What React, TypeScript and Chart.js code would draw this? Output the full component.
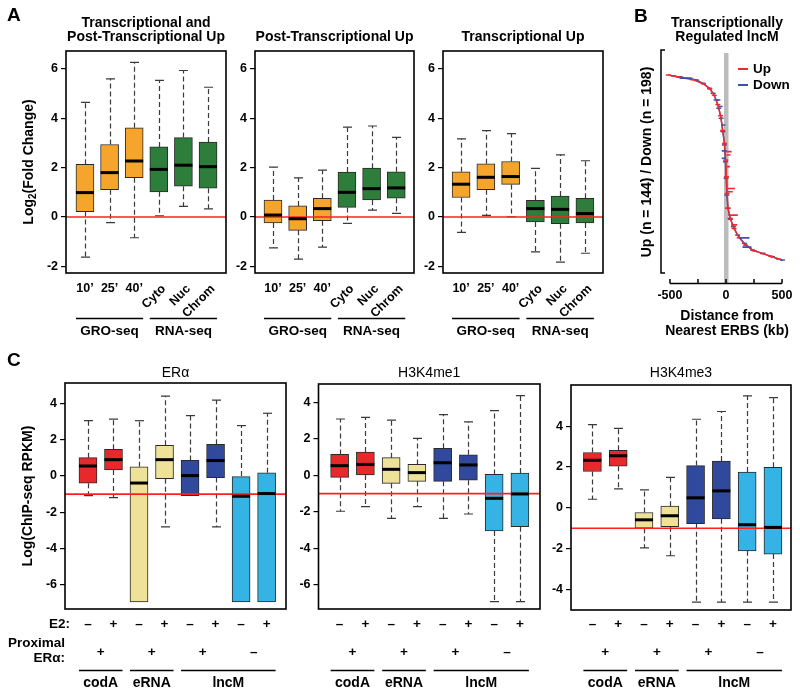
import React, { useEffect, useRef } from 'react';
import { Chart, registerables } from 'chart.js';
Chart.register(...registerables);

const FONT = '"Liberation Sans", Arial, Helvetica, sans-serif';
const PAGE_W = 800;
const PAGE_H = 695;

// ---------------- Panel A data ----------------
const aCategories = ['10’', '25’', '40’', 'Cyto', 'Nuc', 'Chrom'];
const aGroups = ['GRO-seq', 'RNA-seq'];
const aTicks = [-2, 0, 2, 4, 6];
const aTitles = [
  ['Transcriptional and', 'Post-Transcriptional Up'],
  ['Post-Transcriptional Up'],
  ['Transcriptional Up'],
];

const a1Max = [4.65, 5.6, 6.27, 5.54, 5.94, 5.26];
const a1Q3 = [2.14, 2.94, 3.62, 2.84, 3.22, 3.04];
const a1Med = [0.99, 1.8, 2.27, 1.93, 2.1, 2.04];
const a1Q1 = [0.22, 1.11, 1.59, 1.02, 1.25, 1.17];
const a1Min = [-1.63, -0.23, -0.84, 0.05, 0.43, 0.33];

const a2Max = [2.02, 1.59, 1.9, 3.64, 3.69, 3.23];
const a2Q3 = [0.69, 0.45, 0.76, 1.82, 1.98, 1.83];
const a2Med = [0.08, -0.07, 0.34, 1.0, 1.15, 1.18];
const a2Q1 = [-0.24, -0.54, -0.15, 0.39, 0.69, 0.76];
const a2Min = [-1.25, -1.71, -1.22, -0.26, 0.28, 0.15];

const a3Max = [3.17, 3.5, 3.38, 1.97, 2.52, 2.28];
const a3Q3 = [1.83, 2.16, 2.25, 0.68, 0.85, 0.76];
const a3Med = [1.33, 1.61, 1.64, 0.34, 0.31, 0.14];
const a3Q1 = [0.79, 1.11, 1.32, -0.2, -0.27, -0.24];
const a3Min = [-0.62, 0.07, 0.01, -1.41, -1.83, -1.47];

// ---------------- Panel B data ----------------
// y = position in ranked list (% of list, top to bottom), x = distance (kb)
const bUpPct = [0, 1.2, 2.5, 4.8, 7.5, 11, 16, 22, 30, 37, 46, 55, 64, 72, 78, 83, 88, 92, 95, 96.5, 98, 99.5];
const bUpDist = [-515, -420, -300, -200, -145, -105, -72, -48, -30, -13, -2, 4, 10, 19, 40, 72, 118, 175, 250, 330, 400, 470];
const bDownPct = [0.5, 1.0, 1.8, 2.7, 4.5, 7.2, 9.9, 13.5, 18, 23.4, 30.6, 37.8, 46.9, 55.8, 64.9, 72, 77.5, 82, 86.5, 91, 94.6, 96.4, 98.2, 100];
const bDownDist = [-470, -411, -330, -265, -205, -146, -115, -88, -65, -44, -28, -14, -5, 1, 7, 16, 37, 66, 104, 164, 237, 326, 414, 503];
const bUpSpikePct = [41.4, 43.2, 49.5, 61.3, 63.1, 75.7, 81];
const bUpSpikeFrom = [2, 4, 3, 3, 5, 20, 45];
const bUpSpikeTo = [50, 40, 35, 80, 60, 105, 100];
const bDownSpikePct = [1.8, 13.5, 17, 27, 41, 45, 88, 93];
const bDownSpikeFrom = [-415, -88, -65, -40, -38, -38, 120, 147];
const bDownSpikeTo = [-300, -50, -30, -5, 6, 0, 210, 228];
const bAxisTicks = [-500, -250, 0, 250, 500];
const bAxisLabels = [-500, 0, 500];

// ---------------- Panel C data ----------------
const cTitles = ['ERα', 'H3K4me1', 'H3K4me3'];
const cE2 = ['–', '+', '–', '+', '–', '+', '–', '+'];
const cProximal = ['+', '+', '+', '–'];
const cGroups = ['codA', 'eRNA', 'lncM'];
const cTicks12 = [-6, -4, -2, 0, 2, 4];
const cTicks3 = [-4, -2, 0, 2, 4];

const c1Max = [3.05, 3.14, 3.05, 4.41, 3.33, 4.19, 2.78, 3.46];
const c1Q3 = [1.01, 1.47, 0.51, 1.69, 0.86, 1.75, 0.0, 0.18];
const c1Med = [0.55, 0.9, -0.39, 0.9, 0.02, 0.85, -1.12, -0.97];
const c1Q1 = [-0.4, 0.33, -6.95, -0.15, -1.08, -0.09, -6.95, -6.95];
const c1Min = [-1.08, -1.19, -6.95, -2.81, -1.08, -2.81, -6.95, -6.95];

const c2Max = [3.09, 3.18, 3.03, 2.03, 3.33, 2.93, 3.55, 4.37];
const c2Q3 = [1.15, 1.28, 0.97, 0.6, 1.48, 1.13, 0.05, 0.13];
const c2Med = [0.53, 0.6, 0.33, 0.15, 0.69, 0.57, -1.26, -1.02];
const c2Q1 = [-0.11, 0.02, -0.44, -0.33, -0.33, -0.27, -3.05, -2.82];
const c2Min = [-1.97, -1.72, -2.36, -1.72, -2.36, -2.12, -6.93, -6.93];

const c3Max = [4.08, 3.89, 0.88, 1.49, 4.34, 4.72, 5.49, 5.4];
const c3Q3 = [2.71, 2.82, -0.23, 0.08, 2.07, 2.29, 1.75, 1.99];
const c3Med = [2.33, 2.55, -0.59, -0.39, 0.49, 0.83, -0.83, -0.96];
const c3Q1 = [1.78, 2.04, -1.0, -0.93, -0.78, -0.54, -2.11, -2.27];
const c3Min = [0.42, 0.93, -1.96, -2.35, -4.62, -4.62, -4.62, -4.62];

// ---------------- styles ----------------
const ORANGE = '#F5A52B';
const GREEN = '#2D7D3B';
const C_RED = '#E8282B';
const C_YEL = '#EEE298';
const C_DBLUE = '#30499C';
const C_LBLUE = '#36B3E5';
const aColors = [ORANGE, ORANGE, ORANGE, GREEN, GREEN, GREEN];
const cColors = [C_RED, C_RED, C_YEL, C_YEL, C_DBLUE, C_DBLUE, C_LBLUE, C_LBLUE];

function txt(ctx: any, s: string, x: number, y: number, size: number, o: any = {}) {
  ctx.save();
  ctx.font = `${o.weight ?? 'bold'} ${size}px ${FONT}`;
  ctx.fillStyle = o.color ?? '#000';
  ctx.textAlign = o.align ?? 'center';
  ctx.textBaseline = o.baseline ?? 'middle';
  ctx.translate(x, y);
  if (o.rot) ctx.rotate(o.rot);
  ctx.fillText(s, 0, 0);
  ctx.restore();
}

function hline(ctx: any, x1: number, x2: number, y: number, lw = 1.2, color = '#000') {
  ctx.save();
  ctx.strokeStyle = color;
  ctx.lineWidth = lw;
  ctx.beginPath();
  ctx.moveTo(x1, y);
  ctx.lineTo(x2, y);
  ctx.stroke();
  ctx.restore();
}

function panelLetter(ctx: any, s: string, x: number, y: number) {
  txt(ctx, s, x, y, 19, { align: 'left' });
}

const BOX_W = 18;

type BoxSpec = {
  rect: number[];
  xMin: number;
  xMax: number;
  yMin: number;
  yMax: number;
  yTicks: number[];
  colors: string[];
  mins: number[];
  q1s: number[];
  meds: number[];
  q3s: number[];
  maxs: number[];
  ref: number;
  decorate: (chart: any) => void;
};

function boxConfig(spec: BoxSpec) {
  const [L, T, R, B] = spec.rect;
  const YW = 32;
  const positions = spec.meds.map((_, i) => i + 1);
  const plugin = {
    id: 'boxWhisker',
    afterDatasetsDraw(chart: any) {
      const { ctx, chartArea: ca, scales } = chart;
      const x = scales.x;
      const y = scales.y;
      ctx.save();
      for (let i = 0; i < positions.length; i++) {
        const px = Math.round(x.getPixelForValue(positions[i])) + 0.5;
        ctx.strokeStyle = '#3a3a3a';
        ctx.lineWidth = 1.2;
        ctx.setLineDash([5, 3]);
        ctx.beginPath();
        if (spec.maxs[i] > spec.q3s[i] + 0.02) {
          ctx.moveTo(px, y.getPixelForValue(spec.q3s[i]));
          ctx.lineTo(px, y.getPixelForValue(spec.maxs[i]));
        }
        if (spec.mins[i] < spec.q1s[i] - 0.02) {
          ctx.moveTo(px, y.getPixelForValue(spec.q1s[i]));
          ctx.lineTo(px, y.getPixelForValue(spec.mins[i]));
        }
        ctx.stroke();
        ctx.setLineDash([]);
        ctx.beginPath();
        if (spec.maxs[i] > spec.q3s[i] + 0.02) {
          const yy = y.getPixelForValue(spec.maxs[i]);
          ctx.moveTo(px - 4.5, yy);
          ctx.lineTo(px + 4.5, yy);
        }
        if (spec.mins[i] < spec.q1s[i] - 0.02) {
          const yy = y.getPixelForValue(spec.mins[i]);
          ctx.moveTo(px - 4.5, yy);
          ctx.lineTo(px + 4.5, yy);
        }
        ctx.stroke();
      }
      // reference line
      const ry = y.getPixelForValue(spec.ref);
      hline(ctx, ca.left, ca.right, ry, 1.6, '#FF2020');
      // medians
      for (let i = 0; i < positions.length; i++) {
        const px = x.getPixelForValue(positions[i]);
        hline(ctx, px - BOX_W / 2, px + BOX_W / 2, y.getPixelForValue(spec.meds[i]), 3, '#000');
      }
      ctx.restore();
    },
    afterDraw(chart: any) {
      const { ctx, chartArea: ca } = chart;
      ctx.save();
      ctx.strokeStyle = '#000';
      ctx.lineWidth = 1.6;
      ctx.strokeRect(ca.left, ca.top, ca.right - ca.left, ca.bottom - ca.top);
      ctx.restore();
      spec.decorate(chart);
    },
  };
  return {
    type: 'bar',
    data: {
      datasets: [
        {
          data: positions.map((p, i) => ({ x: p, y: [spec.q1s[i], spec.q3s[i]] })),
          backgroundColor: spec.colors,
          borderColor: '#2a2a2a',
          borderWidth: 1,
          borderSkipped: false,
          barThickness: BOX_W,
        },
      ],
    },
    options: {
      responsive: false,
      animation: false,
      events: [],
      layout: { padding: { left: L - YW, top: T, right: PAGE_W - R, bottom: PAGE_H - B } },
      plugins: { legend: { display: false }, tooltip: { enabled: false }, title: { display: false } },
      scales: {
        x: { type: 'linear', min: spec.xMin, max: spec.xMax, offset: false, display: false },
        y: {
          type: 'linear',
          min: spec.yMin,
          max: spec.yMax,
          afterBuildTicks: (s: any) => {
            s.ticks = spec.yTicks.map((v) => ({ value: v }));
          },
          afterFit: (s: any) => {
            s.width = YW;
          },
          border: { display: false },
          grid: { drawOnChartArea: false, drawTicks: true, tickLength: 5, color: '#000', lineWidth: 1.2 },
          ticks: {
            color: '#000',
            padding: 3,
            autoSkip: false,
            font: { family: FONT, size: 12.5, weight: 'bold' },
            callback: (v: any) => String(v),
          },
        },
      },
    },
    plugins: [plugin],
  };
}

// ---------- decorations ----------
function decorateA(idx: number) {
  return (chart: any) => {
    const { ctx, chartArea: ca, scales } = chart;
    const x = scales.x;
    const cx = (ca.left + ca.right) / 2;
    const lines = aTitles[idx];
    if (lines.length === 2) {
      txt(ctx, lines[0], cx, 23, 14);
      txt(ctx, lines[1], cx, 37.5, 14);
    } else {
      txt(ctx, lines[0], cx, 37.5, 14);
    }
    aCategories.forEach((c, i) => {
      const px = x.getPixelForValue(i + 1);
      if (i < 3) txt(ctx, c, px, 289, 12.5);
      else txt(ctx, c, px + 5, 287, 12.5, { align: 'right', rot: -Math.PI / 4 });
    });
    const spans = [
      [1, 3],
      [4, 6],
    ];
    spans.forEach((sp, g) => {
      const x1 = x.getPixelForValue(sp[0]) - BOX_W / 2;
      const x2 = x.getPixelForValue(sp[1]) + BOX_W / 2;
      hline(ctx, x1, x2, 318.5, 1.3);
      txt(ctx, aGroups[g], (x1 + x2) / 2, 331, 13.5);
    });
    if (idx === 0) {
      panelLetter(ctx, 'A', 7, 16);
      // y axis title with subscript
      ctx.save();
      ctx.translate(28, 162);
      ctx.rotate(-Math.PI / 2);
      ctx.fillStyle = '#000';
      ctx.textAlign = 'left';
      ctx.textBaseline = 'alphabetic';
      const f1 = `bold 14px ${FONT}`;
      const f2 = `bold 10px ${FONT}`;
      ctx.font = f1;
      const w1 = ctx.measureText('Log').width;
      const w3 = ctx.measureText('(Fold Change)').width;
      ctx.font = f2;
      const w2 = ctx.measureText('2').width;
      let sx = -(w1 + w2 + w3) / 2;
      ctx.font = f1;
      ctx.fillText('Log', sx, 5);
      sx += w1;
      ctx.font = f2;
      ctx.fillText('2', sx, 8);
      sx += w2;
      ctx.font = f1;
      ctx.fillText('(Fold Change)', sx, 5);
      ctx.restore();
    }
  };
}

function decorateC(idx: number) {
  return (chart: any) => {
    const { ctx, chartArea: ca, scales } = chart;
    const x = scales.x;
    const cx = (ca.left + ca.right) / 2;
    txt(ctx, cTitles[idx], cx, 373, 14, { weight: 'normal' });
    cE2.forEach((s, i) => txt(ctx, s, x.getPixelForValue(i + 1), 624, 13.5));
    cProximal.forEach((s, k) => txt(ctx, s, x.getPixelForValue(2 * k + 1.5), 652, 13.5));
    const spans = [
      [1, 2],
      [3, 4],
      [5, 8],
    ];
    spans.forEach((sp, g) => {
      const x1 = x.getPixelForValue(sp[0]) - BOX_W / 2;
      const x2 = x.getPixelForValue(sp[1]) + BOX_W / 2;
      hline(ctx, x1, x2, 670.5, 1.3);
      txt(ctx, cGroups[g], (x1 + x2) / 2, 683, 14);
    });
    if (idx === 0) {
      panelLetter(ctx, 'C', 7, 361);
      txt(ctx, 'E2:', 70, 624, 13.5, { align: 'right' });
      txt(ctx, 'Proximal', 65, 643, 13.5, { align: 'right' });
      txt(ctx, 'ERα:', 65, 658, 13.5, { align: 'right' });
      txt(ctx, 'Log(ChIP-seq RPKM)', 28, 496, 14, { rot: -Math.PI / 2 });
    }
  };
}

const specs: BoxSpec[] = [
  {
    rect: [66, 51, 226, 273], xMin: 0.23, xMax: 6.73, yMin: -2.27, yMax: 6.73, yTicks: aTicks, colors: aColors,
    mins: a1Min, q1s: a1Q1, meds: a1Med, q3s: a1Q3, maxs: a1Max, ref: 0, decorate: decorateA(0),
  },
  {
    rect: [255, 51, 414, 273], xMin: 0.27, xMax: 6.72, yMin: -2.27, yMax: 6.73, yTicks: aTicks, colors: aColors,
    mins: a2Min, q1s: a2Q1, meds: a2Med, q3s: a2Q3, maxs: a2Max, ref: 0, decorate: decorateA(1),
  },
  {
    rect: [443, 51, 603, 273], xMin: 0.27, xMax: 6.73, yMin: -2.27, yMax: 6.73, yTicks: aTicks, colors: aColors,
    mins: a3Min, q1s: a3Q1, meds: a3Med, q3s: a3Q3, maxs: a3Max, ref: 0, decorate: decorateA(2),
  },
  {
    rect: [65, 383, 286, 609], xMin: 0.1, xMax: 8.76, yMin: -7.34, yMax: 5.13, yTicks: cTicks12, colors: cColors,
    mins: c1Min, q1s: c1Q1, meds: c1Med, q3s: c1Q3, maxs: c1Max, ref: -1, decorate: decorateC(0),
  },
  {
    rect: [318.5, 384, 540, 609], xMin: 0.18, xMax: 8.78, yMin: -7.33, yMax: 5.01, yTicks: cTicks12, colors: cColors,
    mins: c2Min, q1s: c2Q1, meds: c2Med, q3s: c2Q3, maxs: c2Max, ref: -1, decorate: decorateC(1),
  },
  {
    rect: [571, 385, 791, 610], xMin: 0.17, xMax: 8.7, yMin: -5.01, yMax: 6.02, yTicks: cTicks3, colors: cColors,
    mins: c3Min, q1s: c3Q1, meds: c3Med, q3s: c3Q3, maxs: c3Max, ref: -1, decorate: decorateC(2),
  },
];

// ---------- Panel B ----------
const B_RED = '#EE2A2E';
const B_BLUE = '#3C52A8';

function spikeData(pct: number[], from: number[], to: number[]) {
  const out: any[] = [];
  pct.forEach((p, i) => {
    out.push({ x: from[i], y: p });
    out.push({ x: to[i], y: p });
    out.push({ x: NaN, y: NaN });
  });
  return out;
}

function bConfig() {
  const L = 661, T = 50, R = 791, B = 273;
  const plugin = {
    id: 'bDecor',
    beforeDatasetsDraw(chart: any) {
      const { ctx, chartArea: ca, scales } = chart;
      const x0 = scales.x.getPixelForValue(0);
      ctx.save();
      ctx.fillStyle = '#bcbcbc';
      ctx.fillRect(x0 - 2, ca.top + 3, 4.5, 283 - ca.top - 3);
      ctx.restore();
    },
    afterDraw(chart: any) {
      const { ctx, chartArea: ca, scales } = chart;
      const x = scales.x;
      ctx.save();
      ctx.strokeStyle = '#000';
      ctx.lineWidth = 1.5;
      ctx.beginPath();
      ctx.moveTo(ca.left + 4, ca.top);
      ctx.lineTo(ca.left, ca.top);
      ctx.lineTo(ca.left, ca.bottom);
      ctx.lineTo(ca.left + 4, ca.bottom);
      ctx.stroke();
      const ay = 283.5;
      ctx.beginPath();
      ctx.moveTo(x.getPixelForValue(bAxisTicks[0]), ay);
      ctx.lineTo(x.getPixelForValue(bAxisTicks[bAxisTicks.length - 1]), ay);
      bAxisTicks.forEach((t) => {
        const px = x.getPixelForValue(t);
        ctx.moveTo(px, ay);
        ctx.lineTo(px, ay - 4.5);
      });
      ctx.stroke();
      ctx.restore();
      bAxisLabels.forEach((t) => txt(ctx, String(t), x.getPixelForValue(t), 296, 12.5));
      txt(ctx, 'Distance from', 727, 316.5, 14);
      txt(ctx, 'Nearest ERBS (kb)', 727, 331, 14);
      txt(ctx, 'Transcriptionally', 727, 23, 14);
      txt(ctx, 'Regulated lncM', 727, 37.5, 14);
      txt(ctx, 'Up (n = 144) / Down (n = 198)', 647, 162, 14, { rot: -Math.PI / 2 });
      panelLetter(ctx, 'B', 634, 17);
      hline(ctx, 738, 748, 69, 2, B_RED);
      txt(ctx, 'Up', 753, 69, 13.5, { align: 'left' });
      hline(ctx, 738, 748, 85, 2, B_BLUE);
      txt(ctx, 'Down', 753, 85, 13.5, { align: 'left' });
    },
  };
  const curve = (color: string) => ({
    borderColor: color,
    backgroundColor: color,
    borderWidth: 1.4,
    pointStyle: 'line',
    pointRadius: 2.5,
    pointBorderWidth: 1.5,
    pointBorderColor: color,
    tension: 0,
    spanGaps: false,
  });
  return {
    type: 'line',
    data: {
      datasets: [
        { data: spikeData(bUpSpikePct, bUpSpikeFrom, bUpSpikeTo), ...curve(B_RED), pointRadius: 0, borderWidth: 1.6 },
        { data: spikeData(bDownSpikePct, bDownSpikeFrom, bDownSpikeTo), ...curve(B_BLUE), pointRadius: 0, borderWidth: 1.6 },
        { data: bUpPct.map((p, i) => ({ x: bUpDist[i], y: p })), ...curve(B_RED) },
        { data: bDownPct.map((p, i) => ({ x: bDownDist[i], y: p })), ...curve(B_BLUE) },
      ],
    },
    options: {
      responsive: false,
      animation: false,
      events: [],
      layout: { padding: { left: L, top: T, right: PAGE_W - R, bottom: PAGE_H - B } },
      plugins: { legend: { display: false }, tooltip: { enabled: false } },
      scales: {
        x: { type: 'linear', min: -580, max: 580, display: false },
        y: { type: 'linear', min: -13.5, max: 107, reverse: true, display: false },
      },
    },
    plugins: [plugin],
  };
}

function ChartCanvas({ make }: { make: () => any }) {
  const ref = useRef<HTMLCanvasElement>(null);
  useEffect(() => {
    const chart = new Chart(ref.current as HTMLCanvasElement, make());
    return () => chart.destroy();
  }, []);
  return (
    <canvas
      ref={ref}
      width={PAGE_W}
      height={PAGE_H}
      style={{ position: 'absolute', left: 0, top: 0, width: PAGE_W, height: PAGE_H }}
    />
  );
}

export default function App() {
  return (
    <div
      style={{
        position: 'fixed',
        left: 0,
        top: 0,
        width: PAGE_W,
        height: PAGE_H,
        background: '#fff',
        overflow: 'hidden',
      }}
    >
      {specs.map((s, i) => (
        <ChartCanvas key={i} make={() => boxConfig(s)} />
      ))}
      <ChartCanvas make={bConfig} />
    </div>
  );
}
